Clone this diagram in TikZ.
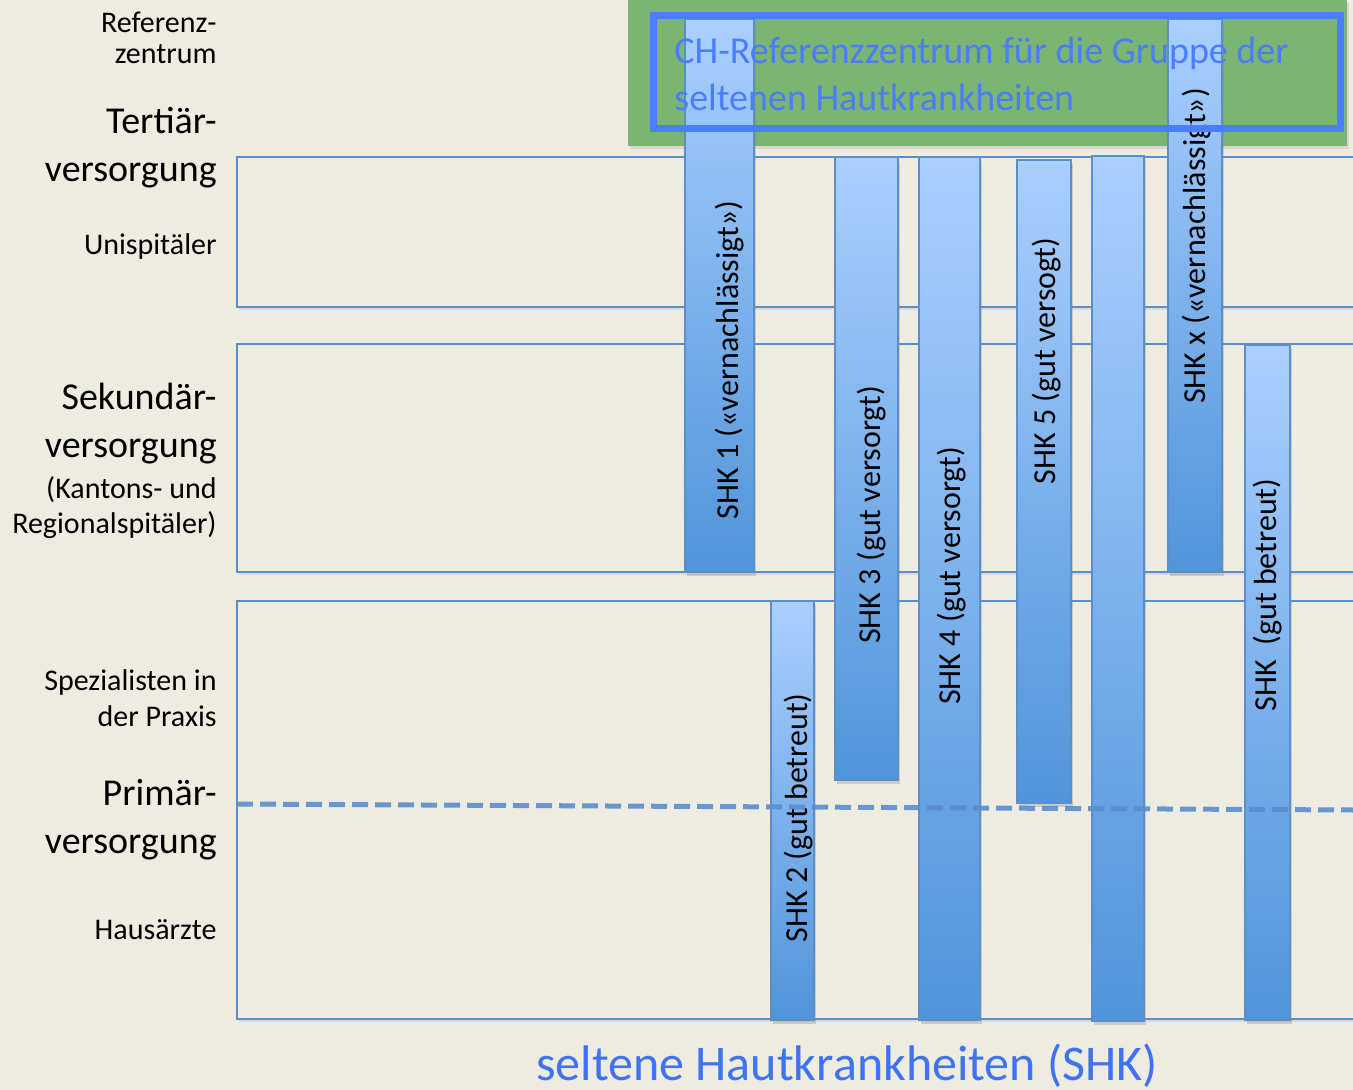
\documentclass[tikz,border=0pt]{standalone}
\usepackage{fontspec}
\setmainfont{Carlito}
\usetikzlibrary{shadows}
\definecolor{bgtan}{HTML}{EEECE1}
\definecolor{bandline}{HTML}{5A8ECF}
\definecolor{bartop}{HTML}{AACFFF}
\definecolor{barbot}{HTML}{5094D9}
\definecolor{barline}{HTML}{5B8FCC}
\definecolor{boxgreen}{HTML}{7CB473}
\definecolor{refblue}{HTML}{4A7EFC}
\definecolor{titleblue}{HTML}{3F73F2}

\begin{document}
\begin{tikzpicture}[x=0.5pt,y=-0.5pt,
  band/.style={draw=bandline,line width=1pt,fill=bgtan,drop shadow={opacity=0.15,shadow xshift=1pt,shadow yshift=-1.5pt}},
  shkbar/.style={draw=barline,line width=0.75pt,top color=bartop,bottom color=barbot,drop shadow={opacity=0.3,shadow xshift=1pt,shadow yshift=-2pt}},
  shklbl/.style={rotate=90,inner sep=0pt,font=\fontsize{16}{19}\selectfont},
  lvl/.style={anchor=base east,align=right,inner sep=0pt,font=\fontsize{15}{#1}\selectfont},
  lvlbig/.style={anchor=base east,align=right,inner sep=0pt,font=\fontsize{19}{24}\selectfont}]
  \useasboundingbox (0,0) rectangle (1353,1090);
  \fill[bgtan] (0,0) rectangle (1353,1090);
  % green field for the reference centre
  \fill[boxgreen,drop shadow={opacity=0.2,shadow xshift=1pt,shadow yshift=-1.5pt}] (628,0) rectangle (1347,146);
  % care levels
  \foreach \ya/\yb in {157/307,344/572,601/1019}
    \draw[band] (237,\ya) rectangle (1362,\yb);
  % the rare skin diseases
  \foreach \xa/\xb/\ya/\yb/\lx/\ly/\txt [count=\i] in {
      685/754/19/572/730/360/{SHK 1 («vernachlässigt»)},
      771/814/601/1020/799/818/{SHK 2 (gut betreut)},
      835/898/157/780/872/515/{SHK 3 (gut versorgt)},
      919/980/157/1020/952/576/{SHK 4 (gut versorgt)},
      1017/1071/160/803/1047/361/{SHK 5 (gut versogt)},
      1092/1144/156/1021/1118/590/{},
      1168/1222/19/572/1197/246/{SHK x («vernachlässigt»)},
      1245/1290/345/1020/1268/595/{SHK~~(gut betreut)}} {
    \path[shkbar] (\xa,\ya) rectangle (\xb,\yb);
    \node[shklbl] (shk\i) at (\lx,\ly) {\txt};
  }
  \draw[refblue,line width=3.5pt] (653,16) rectangle (1340,129);
  \node[anchor=base west,align=left,inner sep=0pt,text=refblue,font=\fontsize{19}{23.5}\selectfont] (refz) at (674,111)
    {CH-Referenzzentrum für die Gruppe der\\seltenen Hautkrankheiten};
  % border between specialists and GPs
  \coordinate (dashL) at (237,804);
  \coordinate (dashR) at (1353,810);
  \draw[bandline,line width=2.5pt,dash pattern=on 8pt off 3.5pt,opacity=0.9] (dashL) -- (dashR);
  % level names (base = last line)
  \node[lvl=15.5] (lref) at (217,64) {Referenz-\\zentrum};
  \node[lvlbig] (lter) at (217,182) {Tertiär-\\versorgung};
  \node[lvl=17] (luni) at (217,255) {Unispitäler};
  \node[lvlbig] (lsek) at (217,458) {Sekundär-\\versorgung};
  \node[lvl=17.5] (lkant) at (217,533) {(Kantons- und\\Regionalspitäler)};
  \node[lvl=18] (lspez) at (217,726) {Spezialisten in\\der Praxis};
  \node[lvlbig] (lprim) at (217,853) {Primär-\\versorgung};
  \node[lvl=17] (lhaus) at (217,939) {Hausärzte};
  \node[anchor=base,inner sep=0pt,text=titleblue,font=\fontsize{25}{30}\selectfont] (shktitle) at (847,1080) {seltene Hautkrankheiten (SHK)};
\end{tikzpicture}
\end{document}
